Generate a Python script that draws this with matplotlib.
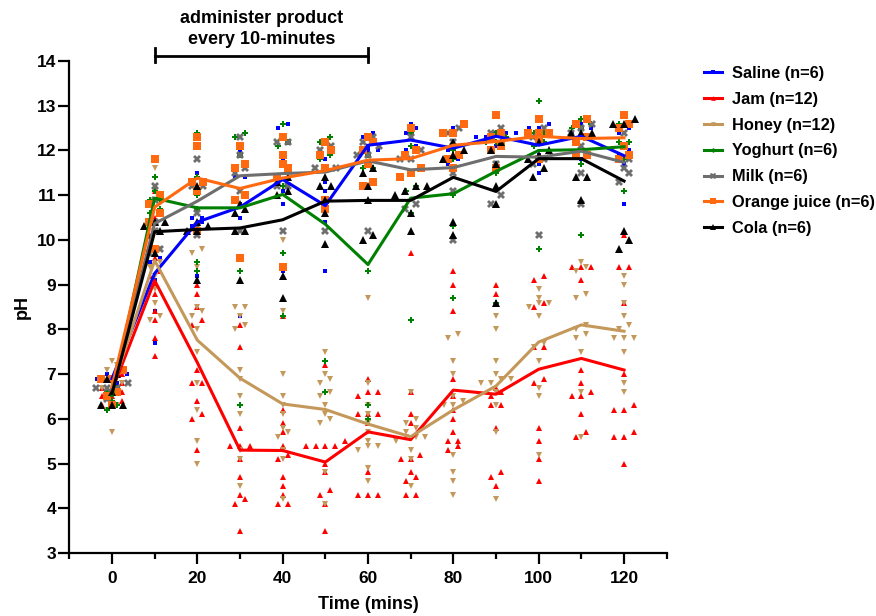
import numpy as np
import matplotlib
matplotlib.use('Agg')
import matplotlib.pyplot as plt
from matplotlib.lines import Line2D

plt.rcParams['font.family'] = ['Liberation Sans', 'DejaVu Sans']
plt.rcParams['font.weight'] = 'bold'

times = [0, 10, 20, 30, 40, 50, 60, 70, 80, 90, 100, 110, 120]

saline = [
    [7.0, 7.0, 7.0, 6.9, 6.8, 6.7],
    [11.2, 9.5, 9.1, 8.4, 7.7, 9.6],
    [11.5, 10.5, 10.4, 9.2, 10.3, 10.5],
    [12.0, 11.4, 10.8, 10.5, 8.3, 11.4],
    [12.6, 12.5, 11.8, 11.1, 9.3, 10.8],
    [11.8, 9.3, 11.1, 11.3, 10.4, 10.7],
    [12.0, 12.3, 12.4, 12.1, 11.9, 12.0],
    [12.6, 12.4, 12.5, 12.1, 11.8, 12.0],
    [12.2, 12.5, 11.8, 12.0, 12.1, 11.7],
    [12.4, 12.4, 12.1, 12.3, 12.4, 12.3],
    [12.5, 12.6, 12.5, 11.7, 11.5, 11.9],
    [12.6, 12.5, 12.4, 12.5, 12.1, 11.8],
    [12.4, 12.0, 11.7, 10.8, 12.5, 11.9],
]

jam = [
    [6.9, 6.5, 6.5, 6.7, 6.4, 6.3, 6.3, 6.9, 6.6, 6.7, 7.0, 6.8],
    [11.1, 10.5, 9.8, 9.6, 9.3, 9.2, 9.0, 8.8, 8.4, 8.2, 7.8, 7.4],
    [9.0, 8.8, 8.5, 8.2, 8.1, 7.1, 6.8, 6.8, 6.4, 6.1, 6.0, 5.3],
    [8.1, 7.6, 5.4, 5.4, 5.4, 5.1, 4.7, 4.3, 4.1, 4.2, 3.5, 5.8],
    [8.3, 6.2, 5.9, 5.7, 5.1, 4.7, 4.5, 4.3, 4.1, 4.1, 5.4, 5.2],
    [7.2, 5.4, 5.4, 5.4, 5.5, 4.3, 4.4, 4.1, 3.5, 5.4, 5.0, 4.8],
    [6.9, 6.6, 6.6, 6.5, 6.1, 6.1, 6.1, 4.8, 4.3, 4.3, 4.3, 5.9],
    [9.7, 6.6, 6.1, 5.9, 5.2, 5.1, 5.1, 4.8, 4.7, 4.6, 4.3, 4.3],
    [9.3, 9.0, 8.4, 6.9, 6.5, 6.2, 5.7, 5.5, 5.4, 6.0, 5.3, 5.5],
    [9.0, 8.8, 8.6, 6.3, 6.3, 5.8, 4.8, 4.7, 4.5, 6.6, 6.5, 6.7],
    [9.1, 9.2, 7.6, 7.6, 6.8, 6.9, 5.8, 5.5, 5.1, 4.6, 8.5, 8.6],
    [9.4, 9.4, 9.4, 9.1, 7.1, 6.5, 6.1, 5.7, 5.6, 6.8, 6.5, 6.6],
    [10.1, 9.4, 9.4, 8.6, 7.0, 6.3, 6.2, 6.2, 5.7, 5.6, 5.6, 5.0],
]

honey = [
    [7.3, 7.2, 7.1, 6.9, 6.8, 6.8, 6.7, 6.6, 6.5, 6.3, 6.2, 5.7],
    [11.6, 11.1, 10.2, 9.8, 9.7, 9.5, 9.4, 9.2, 8.9, 8.6, 8.3, 8.2],
    [9.8, 9.7, 9.4, 8.5, 8.4, 8.0, 7.5, 6.8, 6.2, 5.5, 5.0, 8.3],
    [8.5, 8.5, 8.3, 8.1, 8.0, 7.1, 6.9, 6.5, 6.1, 5.3, 5.1, 4.5],
    [10.0, 8.4, 7.0, 6.5, 6.3, 5.8, 5.7, 5.6, 5.3, 5.1, 4.2, 6.1],
    [7.5, 6.9, 6.8, 6.3, 6.0, 5.9, 4.8, 4.1, 6.6, 6.5, 7.0, 6.1],
    [8.7, 6.8, 6.1, 5.5, 5.4, 4.9, 4.6, 5.9, 6.3, 5.7, 5.3, 5.4],
    [6.6, 6.0, 5.9, 5.6, 5.5, 5.3, 5.1, 4.5, 5.8, 5.6, 5.7, 5.6],
    [7.9, 7.8, 7.3, 7.0, 6.5, 6.4, 6.3, 5.2, 4.8, 4.6, 4.3, 6.3],
    [8.3, 8.0, 7.3, 6.9, 6.3, 5.7, 4.2, 6.6, 6.8, 7.0, 6.9, 6.8],
    [8.9, 8.7, 8.6, 8.3, 7.7, 7.6, 7.3, 6.7, 6.5, 5.2, 8.5, 8.6],
    [9.5, 9.4, 9.3, 8.8, 8.7, 7.5, 6.6, 5.6, 8.1, 7.9, 8.0, 7.8],
    [9.2, 9.0, 8.6, 8.3, 8.1, 8.0, 7.8, 6.8, 6.6, 7.8, 7.5, 7.8],
]

yoghurt = [
    [6.9, 6.7, 6.4, 6.3, 6.2, 6.6],
    [11.1, 10.9, 10.7, 11.4, 10.6, 10.9],
    [12.4, 11.4, 10.7, 9.5, 9.3, 11.0],
    [12.4, 12.3, 12.1, 11.9, 9.3, 6.3],
    [12.6, 12.1, 9.7, 8.3, 11.2, 12.2],
    [12.3, 12.2, 11.9, 11.8, 7.3, 6.6],
    [11.6, 9.3, 6.3, 6.0, 11.9, 11.6],
    [12.4, 12.1, 10.6, 11.2, 8.2, 11.1],
    [12.4, 11.8, 11.0, 10.3, 8.7, 12.0],
    [12.2, 12.4, 11.5, 8.6, 12.3, 12.2],
    [13.1, 12.4, 12.4, 9.8, 12.2, 12.1],
    [12.6, 12.5, 12.5, 11.7, 10.1, 12.7],
    [12.6, 12.2, 11.8, 11.1, 12.2, 12.6],
]

milk = [
    [6.7, 6.7, 6.6, 6.8, 6.45, 6.7],
    [10.9, 10.2, 11.2, 10.4, 9.7, 9.8],
    [11.8, 11.2, 11.2, 10.6, 10.3, 10.1],
    [12.3, 11.9, 11.6, 11.5, 10.2, 11.1],
    [12.2, 12.2, 11.9, 10.2, 11.2, 11.2],
    [12.0, 12.1, 11.6, 11.6, 11.6, 10.2],
    [12.2, 10.2, 12.3, 12.1, 11.9, 11.9],
    [10.7, 10.8, 11.8, 12.0, 11.8, 12.3],
    [12.4, 12.5, 11.5, 10.0, 11.1, 12.2],
    [12.8, 12.5, 12.4, 11.7, 11.0, 10.8],
    [11.8, 11.7, 10.1, 12.3, 12.5, 12.7],
    [12.6, 12.4, 12.1, 11.5, 10.8, 12.5],
    [12.4, 11.8, 11.6, 11.5, 11.3, 11.8],
]

orange_juice = [
    [6.9, 7.1, 6.5, 6.6, 6.3, 6.9],
    [11.8, 11.0, 10.8, 10.4, 9.8, 10.6],
    [12.3, 12.1, 11.3, 11.1, 10.2, 11.3],
    [12.1, 11.7, 11.6, 11.0, 9.6, 10.9],
    [12.3, 11.9, 11.7, 11.6, 9.4, 11.4],
    [12.2, 12.0, 10.7, 11.6, 11.9, 10.9],
    [12.3, 12.0, 11.3, 12.2, 11.7, 11.2],
    [12.5, 11.5, 11.4, 11.6, 12.0, 11.9],
    [12.6, 12.4, 12.4, 11.9, 11.6, 11.8],
    [12.3, 12.0, 12.1, 11.6, 12.4, 12.8],
    [12.4, 12.4, 12.4, 12.7, 12.2, 11.8],
    [12.7, 12.3, 12.6, 12.2, 11.9, 11.9],
    [12.8, 12.5, 12.1, 11.9, 11.8, 12.6],
]

cola = [
    [6.3, 6.3, 6.3, 6.9, 7.0, 6.6],
    [9.7, 10.1, 10.2, 10.3, 10.4, 10.4],
    [10.2, 10.2, 10.3, 11.2, 9.1, 10.4],
    [9.1, 10.6, 10.7, 10.8, 10.2, 10.2],
    [11.4, 9.2, 8.7, 11.3, 11.1, 11.0],
    [11.4, 10.9, 10.6, 9.9, 11.2, 11.2],
    [10.1, 10.0, 11.6, 11.5, 11.2, 10.9],
    [11.0, 10.6, 10.2, 11.2, 11.2, 11.1],
    [12.0, 11.8, 11.9, 10.4, 10.1, 12.2],
    [12.0, 11.7, 11.2, 10.8, 8.6, 12.2],
    [11.4, 11.9, 11.6, 12.0, 11.8, 12.2],
    [12.4, 12.4, 11.4, 11.4, 10.9, 12.4],
    [12.6, 12.7, 10.2, 10.0, 9.8, 12.6],
]

labels = ['Saline (n=6)', 'Jam (n=12)', 'Honey (n=12)', 'Yoghurt (n=6)',
          'Milk (n=6)', 'Orange juice (n=6)', 'Cola (n=6)']
series = [saline, jam, honey, yoghurt, milk, orange_juice, cola]

colors = ['#0000FF', '#FF0000', '#C4985A', '#008000', '#6E6E6E', '#FF6A10', '#000000']
markers = ['s', '^', 'v', 'P', 'X', 's', '^']
msizes = [3.2, 4.2, 4.2, 4.0, 6.0, 5.5, 6.2]
spacing = [2.3, 2.3, 2.3, 2.3, 2.5, 2.5, 2.5]
thresh = [0.12, 0.14, 0.14, 0.12, 0.2, 0.2, 0.2]


def spread(t, vals, sp, th):
    vals = np.sort(np.asarray(vals, dtype=float))
    xs = np.zeros_like(vals)
    groups = []
    cur = [0]
    for i in range(1, len(vals)):
        if vals[i] - vals[cur[0]] < th:
            cur.append(i)
        else:
            groups.append(cur)
            cur = [i]
    groups.append(cur)
    for g in groups:
        k = len(g)
        offs = (np.arange(k) - (k - 1) / 2.0) * sp
        for j, idx in enumerate(g):
            xs[idx] = t + offs[j]
    return xs, vals


fig = plt.figure(figsize=(8.76, 6.16), dpi=100)
ax = fig.add_axes([69.3 / 876, 1 - 553 / 616, (666.7 - 69.3) / 876, (553 - 61) / 616])

for s, data in enumerate(series):
    allx, ally = [], []
    for t, vals in zip(times, data):
        xs, vs = spread(t, vals, spacing[s], thresh[s])
        allx.extend(xs)
        ally.extend(vs)
    ax.plot(allx, ally, linestyle='none', marker=markers[s], ms=msizes[s],
            color=colors[s], mec=colors[s], mew=0, zorder=2, clip_on=False)

for s, data in enumerate(series):
    means = [np.mean(v) for v in data]
    ax.plot(times, means, color=colors[s], lw=2.2, zorder=3)

ax.set_xlim(-10, 130)
ax.set_ylim(3, 14)
ax.set_xticks([0, 20, 40, 60, 80, 100, 120])
ax.set_xticks([-10, 10, 30, 50, 70, 90, 110, 130], minor=True)
ax.set_yticks(range(3, 15))
for sp_ in ['top', 'right']:
    ax.spines[sp_].set_visible(False)
for sp_ in ['left', 'bottom']:
    ax.spines[sp_].set_linewidth(1.6)
ax.tick_params(axis='both', which='major', direction='out', length=8, width=1.6,
               labelsize=12.5)
ax.tick_params(axis='x', which='major', pad=5)
ax.tick_params(axis='y', which='major', pad=1.5)
ax.tick_params(axis='x', which='minor', direction='out', length=4.5, width=1.6)
for lab in ax.get_xticklabels() + ax.get_yticklabels():
    lab.set_fontweight('bold')

ax.set_xlabel('Time (mins)', fontsize=13, fontweight='bold', labelpad=7)
ax.set_ylabel('pH', fontsize=13, fontweight='bold', labelpad=4)

# bracket annotation
ax.plot([10, 60], [14.11, 14.11], color='black', lw=2.0, clip_on=False, zorder=4)
ax.plot([10, 10], [13.98, 14.28], color='black', lw=2.0, clip_on=False, zorder=4)
ax.plot([60, 60], [13.98, 14.28], color='black', lw=2.0, clip_on=False, zorder=4)
ax.text(35, 14.96, 'administer product', ha='center', va='center', fontsize=13,
        fontweight='bold', clip_on=False)
ax.text(35, 14.47, 'every 10-minutes', ha='center', va='center', fontsize=13,
        fontweight='bold', clip_on=False)

handles = [Line2D([0], [0], color=colors[i], lw=2.2, marker=markers[i],
                  ms=msizes[i] * 0.8, mew=0) for i in range(len(labels))]
leg = fig.legend(handles, labels, loc='upper left',
                 bbox_to_anchor=(704 / 876, 1 - 66 / 616), frameon=False,
                 fontsize=11.8, handlelength=1.1, handletextpad=0.6,
                 labelspacing=0.66, borderpad=0, borderaxespad=0, numpoints=1)
for t in leg.get_texts():
    t.set_fontweight('bold')

fig.savefig('out.png', dpi=100)
